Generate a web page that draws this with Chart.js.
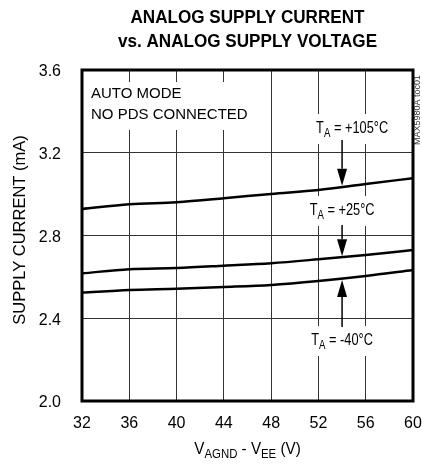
<!DOCTYPE html>
<html>
<head>
<meta charset="utf-8">
<script src="https://cdn.jsdelivr.net/npm/chart.js@4.4.0/dist/chart.umd.min.js"></script>
<style>
  html, body { margin: 0; padding: 0; background: #fff; }
  #chart { display: block; }
</style>
</head>
<body>
<canvas id="chart" width="422" height="464"></canvas>
<script>
// Data
const voltages = [32, 36, 40, 44, 48, 52, 56, 60];
const current105 = [2.928, 2.951, 2.961, 2.980, 3.001, 3.020, 3.049, 3.077];
const current25 = [2.617, 2.637, 2.643, 2.654, 2.666, 2.685, 2.706, 2.730];
const currentM40 = [2.524, 2.537, 2.543, 2.551, 2.561, 2.580, 2.604, 2.633];

const xTicks = [32, 36, 40, 44, 48, 52, 56, 60];
const yTicks = [2.0, 2.4, 2.8, 3.2, 3.6];

const titleLines = ['ANALOG SUPPLY CURRENT', 'vs. ANALOG SUPPLY VOLTAGE'];
const modeNotes = ['AUTO MODE', 'NO PDS CONNECTED'];
const figureId = 'MAX5980A toc01';

// temperature callouts (all in data units)
const calloutTemps = ['+105°C', '+25°C', '-40°C'];
const calloutX = 54;
const calloutLabelX = [54.85, 54, 54];
const calloutLabelY = [3.315, 2.918, 2.290];
const calloutArrowFrom = [3.262, 2.851, 2.358];
const calloutArrowTo = [3.040, 2.700, 2.585];

const FONT = "'Liberation Sans', Arial, sans-serif";
const CALLOUT_SIZE = 16;
const CALLOUT_SQUEEZE = 0.8;

function toPoints(ys) {
    return voltages.map((v, i) => ({ x: v, y: ys[i] }));
}

function partsWidth(ctx, parts, size) {
    const subSize = Math.round(size * 0.78);
    let total = 0;
    parts.forEach(p => {
        ctx.font = (p[1] ? subSize : size) + 'px ' + FONT;
        total += ctx.measureText(p[0]).width;
    });
    return total;
}

// draw text made of [text, isSubscript] parts, centred on x
function drawParts(ctx, parts, x, y, size, sx) {
    const subSize = Math.round(size * 0.78);
    const total = partsWidth(ctx, parts, size);
    ctx.save();
    ctx.translate(x, y);
    ctx.scale(sx, 1);
    ctx.textAlign = 'left';
    ctx.textBaseline = 'middle';
    let cx = -total / 2;
    parts.forEach(p => {
        ctx.font = (p[1] ? subSize : size) + 'px ' + FONT;
        ctx.fillText(p[0], cx, p[1] ? size * 0.28 : 0);
        cx += ctx.measureText(p[0]).width;
    });
    ctx.restore();
    return total * sx;
}

function calloutParts(i) {
    return [['T', false], ['A', true], [' = ' + calloutTemps[i], false]];
}

function drawArrow(ctx, x, y1, y2) {
    const dir = y2 > y1 ? 1 : -1;
    const head = 17;
    ctx.strokeStyle = '#000';
    ctx.lineWidth = 1.5;
    ctx.beginPath();
    ctx.moveTo(x, y1);
    ctx.lineTo(x, y2 - dir * head);
    ctx.stroke();
    ctx.fillStyle = '#000';
    ctx.beginPath();
    ctx.moveTo(x, y2);
    ctx.lineTo(x - 5, y2 - dir * head);
    ctx.lineTo(x + 5, y2 - dir * head);
    ctx.closePath();
    ctx.fill();
}

const annotate = {
    id: 'annotate',
    beforeDatasetsDraw(chart) {
        const { ctx, scales: { x, y }, chartArea } = chart;
        ctx.save();
        ctx.fillStyle = '#fff';
        // box behind the mode notes
        ctx.fillRect(chartArea.left + 2, 82, 168, 48);
        // boxes behind the temperature labels
        calloutTemps.forEach((t, i) => {
            const w = partsWidth(ctx, calloutParts(i), CALLOUT_SIZE) * CALLOUT_SQUEEZE;
            const cy = y.getPixelForValue(calloutLabelY[i]);
            ctx.fillRect(x.getPixelForValue(calloutLabelX[i]) - w / 2 - 10, cy - 15, w + 20, 30);
        });
        ctx.restore();
    },
    afterDatasetsDraw(chart) {
        const { ctx, scales: { x, y }, chartArea } = chart;
        ctx.save();

        // frame
        ctx.strokeStyle = '#000';
        ctx.lineWidth = 3;
        ctx.strokeRect(chartArea.left, chartArea.top, chartArea.right - chartArea.left, chartArea.bottom - chartArea.top);

        ctx.fillStyle = '#000';
        ctx.textAlign = 'left';
        ctx.textBaseline = 'middle';
        ctx.font = '15px ' + FONT;
        ctx.fillText(modeNotes[0], chartArea.left + 9, 94);
        ctx.fillText(modeNotes[1], chartArea.left + 9, 115);

        const ax = x.getPixelForValue(calloutX);
        calloutTemps.forEach((t, i) => {
            ctx.fillStyle = '#000';
            drawParts(ctx, calloutParts(i), x.getPixelForValue(calloutLabelX[i]), y.getPixelForValue(calloutLabelY[i]), CALLOUT_SIZE, CALLOUT_SQUEEZE);
            drawArrow(ctx, ax, y.getPixelForValue(calloutArrowFrom[i]), y.getPixelForValue(calloutArrowTo[i]));
        });

        // title
        ctx.fillStyle = '#000';
        ctx.textAlign = 'center';
        ctx.textBaseline = 'middle';
        const cx = (chartArea.left + chartArea.right) / 2;
        ctx.font = 'bold 19px ' + FONT;
        titleLines.forEach((line, i) => {
            ctx.save();
            ctx.translate(cx, 18 + i * 24);
            ctx.scale(0.9, 1);
            ctx.fillText(line, 0, 0);
            ctx.restore();
        });

        // axis titles
        drawParts(ctx, [['V', false], ['AGND', true], [' - V', false], ['EE', true], [' (V)', false]], cx, 450, 16, 0.95);

        ctx.save();
        ctx.translate(20, 230);
        ctx.rotate(-Math.PI / 2);
        ctx.textAlign = 'center';
        ctx.textBaseline = 'middle';
        ctx.font = '16.5px ' + FONT;
        ctx.fillText('SUPPLY CURRENT (mA)', 0, 0);
        ctx.restore();

        // figure id on the right edge
        ctx.save();
        ctx.translate(418, 110);
        ctx.rotate(-Math.PI / 2);
        ctx.textAlign = 'center';
        ctx.textBaseline = 'middle';
        ctx.font = '9px ' + FONT;
        ctx.fillStyle = '#333';
        ctx.fillText(figureId, 0, 0);
        ctx.restore();

        ctx.restore();
    }
};

const lineStyle = {
    borderColor: '#000',
    borderWidth: 2.5,
    pointRadius: 0,
    fill: false,
    cubicInterpolationMode: 'monotone'
};

new Chart(document.getElementById('chart'), {
    type: 'line',
    data: {
        datasets: [
            { label: '+105°C', data: toPoints(current105), ...lineStyle },
            { label: '+25°C', data: toPoints(current25), ...lineStyle },
            { label: '-40°C', data: toPoints(currentM40), ...lineStyle }
        ]
    },
    options: {
        responsive: false,
        animation: false,
        devicePixelRatio: 1,
        layout: { padding: { top: 70, right: 9, left: 0, bottom: 0 } },
        plugins: { legend: { display: false }, tooltip: { enabled: false } },
        scales: {
            x: {
                type: 'linear',
                min: 32,
                max: 60,
                afterBuildTicks: s => { s.ticks = xTicks.map(v => ({ value: v })); },
                afterFit: s => { s.height = 63; s.paddingLeft = 0; s.paddingRight = 0; },
                grid: { color: '#333', lineWidth: 1, drawTicks: false },
                border: { display: false },
                ticks: { font: { family: FONT, size: 16 }, color: '#000', padding: 13, maxRotation: 0 }
            },
            y: {
                type: 'linear',
                min: 2.0,
                max: 3.6,
                afterBuildTicks: s => { s.ticks = yTicks.map(v => ({ value: v })); },
                afterFit: s => { s.width = 82; s.paddingTop = 0; s.paddingBottom = 0; },
                grid: { color: '#333', lineWidth: 1, drawTicks: false },
                border: { display: false },
                ticks: {
                    font: { family: FONT, size: 16 },
                    color: '#000',
                    padding: 21,
                    labelOffset: 2,
                    callback: v => v.toFixed(1)
                }
            }
        }
    },
    plugins: [annotate]
});
</script>
</body>
</html>
